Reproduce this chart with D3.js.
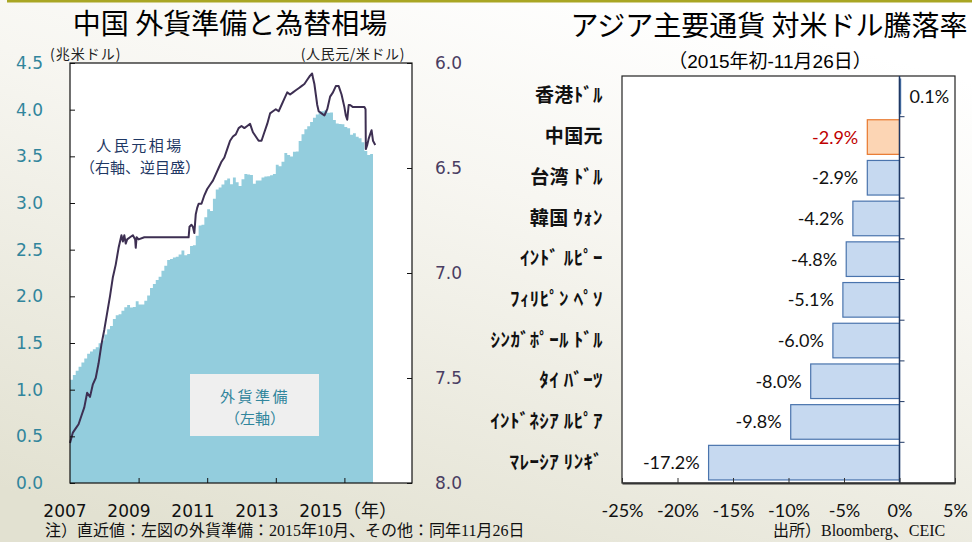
<!DOCTYPE html>
<html>
<head>
<meta charset="utf-8">
<script src="https://cdn.jsdelivr.net/npm/d3@7"></script>
<style>
  body { margin: 0; }
  svg { display: block; }
</style>
</head>
<body>
<div id="chart"></div>
<script>
// --- data ---
// China FX reserves, trillion USD, monthly from 2007-01 to 2015-10
const reserves = [
  1.105, 1.158, 1.202, 1.246, 1.292, 1.333, 1.385, 1.408, 1.434, 1.455, 1.497, 1.528,
  1.590, 1.647, 1.682, 1.757, 1.797, 1.809, 1.845, 1.884, 1.906, 1.880, 1.885, 1.946,
  1.913, 1.912, 1.954, 2.009, 2.090, 2.132, 2.175, 2.211, 2.273, 2.328, 2.389, 2.399,
  2.415, 2.425, 2.447, 2.491, 2.440, 2.454, 2.538, 2.548, 2.648, 2.760, 2.768, 2.847,
  2.932, 2.914, 3.045, 3.145, 3.166, 3.197, 3.245, 3.262, 3.202, 3.274, 3.221, 3.181,
  3.254, 3.312, 3.305, 3.299, 3.206, 3.240, 3.240, 3.273, 3.285, 3.287, 3.297, 3.312,
  3.410, 3.395, 3.443, 3.535, 3.515, 3.497, 3.548, 3.553, 3.663, 3.736, 3.789, 3.821,
  3.867, 3.914, 3.948, 3.981, 3.984, 3.993, 3.966, 3.969, 3.888, 3.853, 3.847, 3.843,
  3.813, 3.801, 3.730, 3.748, 3.711, 3.694, 3.651, 3.557, 3.514, 3.525
];

// RMB per USD: [months since Jan 2007, rate]
const rmbSeries = [
  [0, 7.81], [1, 7.76], [2, 7.74], [3, 7.72], [4, 7.68], [5, 7.64], [6, 7.57], [7, 7.59],
  [8, 7.53], [9, 7.50], [10, 7.43], [11, 7.34], [12, 7.27], [13, 7.19], [14, 7.11], [15, 7.02],
  [16, 6.96], [17, 6.88], [18, 6.82], [18.5, 6.85], [19, 6.82], [19.5, 6.86], [20, 6.84],
  [21, 6.83], [22, 6.82], [22.8, 6.84], [23, 6.88], [23.3, 6.83], [24, 6.84], [26, 6.83],
  [28, 6.83], [30, 6.83], [32, 6.83], [34, 6.83], [36, 6.83], [38, 6.83], [40, 6.83],
  [41.5, 6.83], [41.8, 6.78], [42.5, 6.77], [43, 6.78], [43.5, 6.81], [44, 6.72], [44.5, 6.69],
  [45, 6.67], [46, 6.67], [47, 6.63], [48, 6.60], [49, 6.58], [50, 6.56], [51, 6.53], [52, 6.50],
  [53, 6.47], [54, 6.45], [55, 6.41], [56, 6.37], [57, 6.35], [58, 6.34], [59, 6.31], [60, 6.30],
  [61, 6.31], [62, 6.30], [63, 6.29], [63.5, 6.31], [64, 6.33], [65, 6.35], [66, 6.37], [67, 6.37],
  [68, 6.33], [69, 6.29], [70, 6.24], [71, 6.23], [72, 6.22], [73, 6.23], [74, 6.20], [75, 6.17],
  [76, 6.14], [77, 6.15], [78, 6.14], [79, 6.13], [80, 6.12], [81, 6.11], [82, 6.10], [83, 6.08],
  [84, 6.06], [84.7, 6.05], [85, 6.07], [85.5, 6.10], [86, 6.15], [86.5, 6.20], [87, 6.23],
  [88, 6.24], [89, 6.25], [90, 6.22], [91, 6.16], [92, 6.14], [93, 6.11], [94, 6.11], [95, 6.15],
  [96, 6.21], [96.5, 6.25], [97, 6.27], [97.5, 6.20], [98, 6.20], [99, 6.21], [100, 6.21],
  [101, 6.21], [102, 6.21], [103, 6.21], [103.4, 6.22], [103.5, 6.41], [104, 6.39], [104.5, 6.36],
  [105, 6.34], [105.5, 6.32], [106, 6.37], [106.8, 6.39]
];

const yearLabels = ["2007", "2009", "2011", "2013", "2015"];
const yearTicks = [24, 48, 72, 96];   // months since Jan 2007
const resTicks = [0, 0.5, 1, 1.5, 2, 2.5, 3, 3.5, 4, 4.5];
const rmbTicks = [6.0, 6.5, 7.0, 7.5, 8.0];

const currencies = ["香港ﾄﾞﾙ", "中国元", "台湾 ﾄﾞﾙ", "韓国 ｳｫﾝ", "ｲﾝﾄﾞ ﾙﾋﾟｰ",
  "ﾌｨﾘﾋﾟﾝ ﾍﾟｿ", "ｼﾝｶﾞﾎﾟｰﾙ ﾄﾞﾙ", "ﾀｲ ﾊﾞｰﾂ", "ｲﾝﾄﾞﾈｼｱ ﾙﾋﾟｱ", "ﾏﾚｰｼｱ ﾘﾝｷﾞ"];
const changes = [0.1, -2.9, -2.9, -4.2, -4.8, -5.1, -6.0, -8.0, -9.8, -17.2];
const pctTicks = [-25, -20, -15, -10, -5, 0, 5];
const highlight = "中国元";

// --- setup ---
const W = 972, H = 542;
const cjk = "'Noto Sans CJK JP', sans-serif";
const teal = "#31859c", purple = "#4a3d62";

const svg = d3.select("#chart").append("svg")
  .attr("width", W).attr("height", H);

const defs = svg.append("defs");
const grad = defs.append("linearGradient").attr("id", "bg")
  .attr("x1", 0.7).attr("y1", 0).attr("x2", 0.2).attr("y2", 1);
grad.append("stop").attr("offset", "0%").attr("stop-color", "#ffffff");
grad.append("stop").attr("offset", "35%").attr("stop-color", "#f7f6f1");
grad.append("stop").attr("offset", "100%").attr("stop-color", "#e2e1d1");

svg.append("rect").attr("width", W).attr("height", H).attr("fill", "url(#bg)");
svg.append("rect").attr("x", 7).attr("y", 0).attr("width", W - 7).attr("height", 2.5)
  .attr("fill", "#a9a624");

// ================= left chart =================
const L = {left: 70, right: 412, top: 63, bottom: 483};

const x = d3.scaleLinear().domain([0, 120]).range([L.left, L.right + 1]);
const yRes = d3.scaleLinear().domain([0, 4.5]).range([L.bottom, L.top]);
const yRmb = d3.scaleLinear().domain([6, 8]).range([L.top, L.bottom]);

svg.append("text")
  .attr("x", 230).attr("y", 34)
  .attr("text-anchor", "middle")
  .style("font", `28px ${cjk}`)
  .text("中国 外貨準備と為替相場");

svg.append("text").attr("x", 50).attr("y", 59)
  .style("font", `14px ${cjk}`).style("letter-spacing", "1px")
  .attr("fill", "#222").text("(兆米ドル)");
svg.append("text").attr("x", 405).attr("y", 59).attr("text-anchor", "end")
  .style("font", `14px ${cjk}`).style("letter-spacing", "0.6px")
  .attr("fill", "#222").text("(人民元/米ドル)");

svg.append("rect")
  .attr("x", L.left).attr("y", L.top)
  .attr("width", L.right - L.left).attr("height", L.bottom - L.top)
  .attr("fill", "#fff");

// reserves (stepped area)
const resData = reserves.map((v, i) => ({m: i, v}));
resData.push({m: reserves.length, v: reserves[reserves.length - 1]});

const area = d3.area()
  .curve(d3.curveStepAfter)
  .x(d => x(d.m))
  .y0(yRes(0))
  .y1(d => yRes(d.v));

svg.append("path")
  .datum(resData)
  .attr("fill", "#93cddd")
  .attr("d", area);

// annotation box
svg.append("rect")
  .attr("x", 190).attr("y", 374).attr("width", 129).attr("height", 62)
  .attr("fill", "#efefef");
svg.append("text").attr("x", 255).attr("y", 402).attr("text-anchor", "middle")
  .attr("fill", teal).style("font", `15px ${cjk}`).style("letter-spacing", "2.5px")
  .text("外貨準備");
svg.append("text").attr("x", 255).attr("y", 424).attr("text-anchor", "middle")
  .attr("fill", teal).style("font", `15px ${cjk}`)
  .text("（左軸）");

// RMB line
const line = d3.line()
  .x(d => x(d[0]))
  .y(d => yRmb(d[1]));

svg.append("path")
  .datum(rmbSeries)
  .attr("fill", "none")
  .attr("stroke", "#3d2f52")
  .attr("stroke-width", 2)
  .attr("stroke-linejoin", "round")
  .attr("d", line);

svg.append("text").attr("x", 140).attr("y", 151).attr("text-anchor", "middle")
  .attr("fill", "#1f3864").style("font", `15px ${cjk}`).style("letter-spacing", "2.5px")
  .text("人民元相場");
svg.append("text").attr("x", 140).attr("y", 173).attr("text-anchor", "middle")
  .attr("fill", "#1f3864").style("font", `15px ${cjk}`)
  .text("（右軸、逆目盛）");

// frame
svg.append("rect")
  .attr("x", L.left).attr("y", L.top)
  .attr("width", L.right - L.left).attr("height", L.bottom - L.top)
  .attr("fill", "none").attr("stroke", "#111").attr("stroke-width", 1.2);

// left axis
const axL = svg.append("g")
  .attr("transform", `translate(${L.left},0)`)
  .call(d3.axisLeft(yRes).tickValues(resTicks).tickSizeInner(-5).tickSizeOuter(0)
    .tickPadding(27).tickFormat(d3.format(".1f")));
axL.select(".domain").remove();
axL.selectAll("line").attr("stroke", "#111");
axL.selectAll("text").attr("fill", teal).style("font", "17px 'DejaVu Sans'");

// right axis
const axR = svg.append("g")
  .attr("transform", `translate(${L.right},0)`)
  .call(d3.axisRight(yRmb).tickValues(rmbTicks).tickSizeInner(-5).tickSizeOuter(0)
    .tickPadding(23).tickFormat(d3.format(".1f")));
axR.select(".domain").remove();
axR.selectAll("line").attr("stroke", "#111");
axR.selectAll("text").attr("fill", purple).style("font", "17px 'DejaVu Sans'");

// bottom axis
const axB = svg.append("g")
  .attr("transform", `translate(0,${L.bottom})`)
  .call(d3.axisBottom(x).tickValues(yearTicks).tickSizeInner(-5).tickSizeOuter(0).tickFormat(""));
axB.select(".domain").remove();
axB.selectAll("line").attr("stroke", "#111");

const yearX = d3.scalePoint().domain(yearLabels).range([65, 321]);
svg.append("g").selectAll("text")
  .data(yearLabels)
  .join("text")
  .attr("x", d => yearX(d))
  .attr("y", 517)
  .attr("text-anchor", "middle")
  .style("font", "17px 'DejaVu Sans'")
  .attr("fill", "#111")
  .text(d => d);
svg.append("text")
  .attr("x", yearX("2015") + 22).attr("y", 517)
  .style("font", `18px ${cjk}`).attr("fill", "#111")
  .text("（年）");

svg.append("text").attr("x", 45).attr("y", 536)
  .style("font", `16px 'Liberation Serif', ${cjk}`).attr("fill", "#111")
  .text("注）直近値：左図の外貨準備：2015年10月、その他：同年11月26日");

// ================= right chart =================
const R = {left: 622, right: 955, top: 76, bottom: 483};

const xPct = d3.scaleLinear().domain([-25, 5]).range([R.left, R.right]);
const yCat = d3.scaleBand().domain(currencies).range([R.top, R.bottom])
  .paddingInner(0.15).paddingOuter(0.075);

svg.append("text")
  .attr("x", 769).attr("y", 36)
  .attr("text-anchor", "middle")
  .style("font", `28px ${cjk}`)
  .text("アジア主要通貨 対米ドル騰落率");
svg.append("text")
  .attr("x", 770).attr("y", 68)
  .attr("text-anchor", "middle")
  .style("font", `19px 'Liberation Sans', ${cjk}`)
  .text("（2015年初-11月26日）");

svg.append("rect")
  .attr("x", R.left).attr("y", R.top)
  .attr("width", R.right - R.left).attr("height", R.bottom - R.top)
  .attr("fill", "#fff").attr("stroke", "#222").attr("stroke-width", 1.2);

const bars = currencies.map((c, i) => ({c, v: changes[i]}));

svg.append("g").selectAll("rect")
  .data(bars)
  .join("rect")
  .attr("x", d => xPct(Math.min(0, d.v)))
  .attr("y", d => yCat(d.c))
  .attr("width", d => Math.abs(xPct(d.v) - xPct(0)))
  .attr("height", yCat.bandwidth())
  .attr("fill", d => d.c === highlight ? "#fcd5b4" : "#c6d9f0")
  .attr("stroke", d => d.c === highlight ? "#e8782e" : "#4a74ad")
  .attr("stroke-width", 1.2);

svg.append("g").selectAll("text")
  .data(bars)
  .join("text")
  .attr("x", d => d.v < 0 ? xPct(d.v) - 9 : xPct(d.v) + 9)
  .attr("y", d => yCat(d.c) + yCat.bandwidth() / 2)
  .attr("dy", "0.36em")
  .attr("text-anchor", d => d.v < 0 ? "end" : "start")
  .attr("fill", d => d.c === highlight ? "#c00000" : "#111")
  .style("font", "18px Lato")
  .text(d => d.v.toFixed(1) + "%");

// zero line with category boundary ticks
svg.append("line")
  .attr("x1", xPct(0)).attr("x2", xPct(0))
  .attr("y1", R.top).attr("y2", R.bottom)
  .attr("stroke", "#1f3864").attr("stroke-width", 1.5);
const bounds = currencies.slice(1).map(c => yCat(c) - yCat.step() * yCat.paddingInner() / 2);
svg.append("g").selectAll("line")
  .data(bounds)
  .join("line")
  .attr("x1", xPct(0)).attr("x2", xPct(0) + 5)
  .attr("y1", d => d).attr("y2", d => d)
  .attr("stroke", "#1f3864").attr("stroke-width", 1);

// category labels
const axC = svg.append("g")
  .attr("transform", `translate(${R.left},0)`)
  .call(d3.axisLeft(yCat).tickSize(0).tickPadding(19));
axC.select(".domain").remove();
axC.selectAll("text").attr("fill", "#111")
  .style("font", `bold 19px ${cjk}`)
  .style("letter-spacing", "0.4px");

// bottom pct axis
const axP = svg.append("g")
  .attr("transform", `translate(0,${R.bottom})`)
  .call(d3.axisBottom(xPct).tickValues(pctTicks).tickSizeInner(-5).tickSizeOuter(0)
    .tickPadding(21).tickFormat(d => d + "%"));
axP.select(".domain").attr("stroke", "#333").attr("stroke-width", 2);
axP.selectAll("line").attr("stroke", "#333");
axP.selectAll("text").attr("fill", "#111").style("font", "18px Lato");

svg.append("text").attr("x", 773).attr("y", 536)
  .style("font", `16px 'Liberation Serif', ${cjk}`).attr("fill", "#111")
  .text("出所）Bloomberg、CEIC");
</script>
</body>
</html>
